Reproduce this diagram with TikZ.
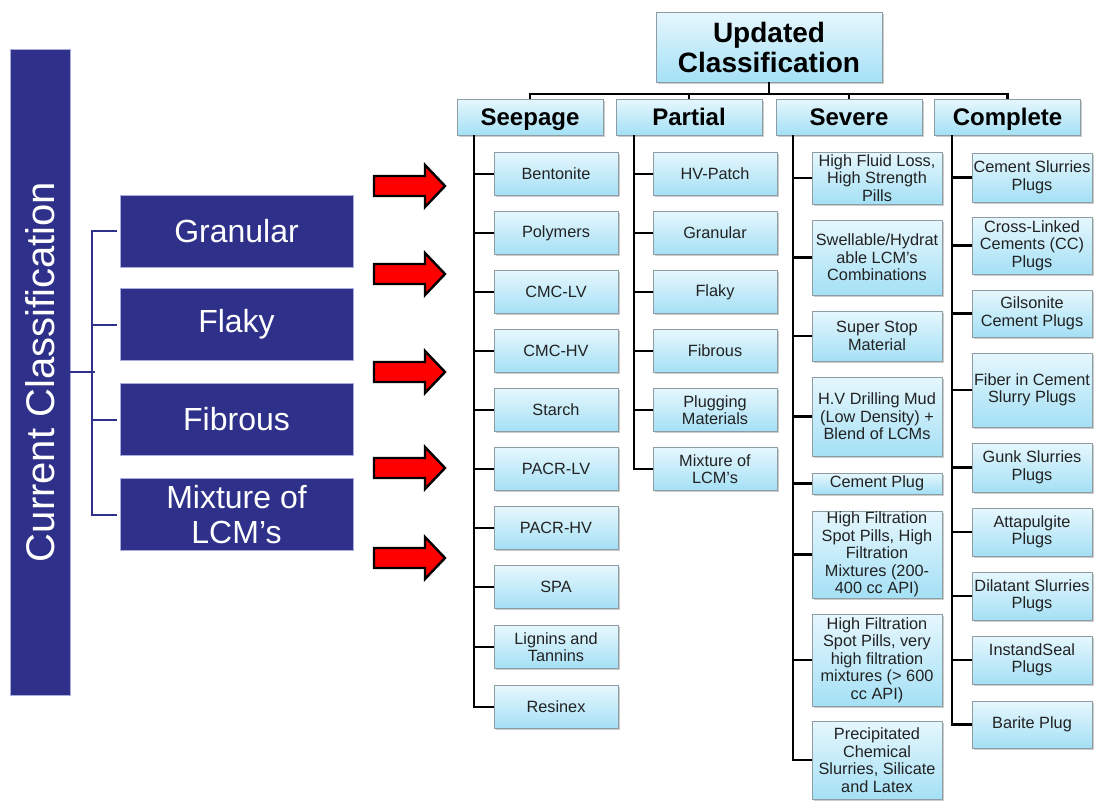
\documentclass[tikz,border=0pt]{standalone}
\usepackage{fontspec}
\setmainfont{Liberation Sans}
\usetikzlibrary{shadows}
\definecolor{navy}{HTML}{2E3089}
\definecolor{navyedge}{HTML}{A9ACDC}
\definecolor{ltop}{HTML}{E6F7FD}
\definecolor{lbot}{HTML}{A4E0F5}
\definecolor{lborder}{HTML}{8E9CA3}
\definecolor{itext}{HTML}{222222}
\begin{document}
\begin{tikzpicture}[x=1pt,y=-1pt,
  lb/.style={draw=lborder, line width=0.9pt, top color=ltop, bottom color=lbot,
    drop shadow={shadow xshift=1.6pt, shadow yshift=-1.6pt, fill=black!40},
    align=center, inner sep=0pt},
  item/.style={lb, text=itext, font=\fontsize{16.3}{17.5}\selectfont},
  sitem/.style={item, minimum width=124},
  vitem/.style={item, minimum width=130},
  citem/.style={item, minimum width=120},
  cat/.style={lb, minimum width=146, minimum height=36, text height=19, text depth=2,
    font=\fontsize{24}{26}\selectfont\bfseries},
  navybox/.style={fill=navy, draw=navyedge, line width=0.6pt, text=white, align=center, inner sep=0pt},
  conn/.style={draw=black, line width=2.6pt},
  bl/.style={draw=navy, line width=2pt},
  redarrow/.pic={\draw[fill=red, draw=black, line width=2.4pt, line join=miter]
     (-35,-10) -- (16,-10) -- (16,-21) -- (36,0) -- (16,21) -- (16,10) -- (-35,10) -- cycle;}
]
\useasboundingbox (0,0) rectangle (1094,801);

% ---------- left side ----------
\node[navybox, rotate=90, minimum width=646, minimum height=60,
  font=\fontsize{40}{42}\selectfont] (cur) at (40,372) {Current Classification};
\node[navybox, minimum width=233, minimum height=72, font=\fontsize{32}{35}\selectfont] (g1) at (236.5,231) {Granular};
\node[navybox, minimum width=233, minimum height=72, font=\fontsize{32}{35}\selectfont] (g2) at (236.5,324.5) {Flaky};
\node[navybox, minimum width=233, minimum height=72, font=\fontsize{32}{35}\selectfont] (g3) at (236.5,419.5) {Fibrous};
\node[navybox, minimum width=233, minimum height=72, font=\fontsize{32}{35}\selectfont] (g4) at (236.5,514.5) {Mixture of\\LCM’s};
\coordinate (bx) at (95,372);
\draw[bl] (cur.south) -- (cur.south -| bx);
\draw[bl] ([xshift=-3pt]g1.west) -- ([xshift=-3pt]g1.west -| bx) -- ([xshift=-3pt]g4.west -| bx) -- ([xshift=-3pt]g4.west);
\draw[bl] ([xshift=-3pt]g2.west) -- ([xshift=-3pt]g2.west -| bx);
\draw[bl] ([xshift=-3pt]g3.west) -- ([xshift=-3pt]g3.west -| bx);

% ---------- red arrows ----------
\pic at (409,186) {redarrow};
\pic at (409,274) {redarrow};
\pic at (409,372) {redarrow};
\pic at (409,468) {redarrow};
\pic at (409,558) {redarrow};

% ---------- top ----------
\node[lb, minimum width=226, minimum height=70, font=\fontsize{28}{30}\selectfont\bfseries] (upd) at (769,47) {Updated\\Classification};
\node[cat] (seep) at (530,117) {Seepage};
\node[cat] (part) at (689,117) {Partial};
\node[cat] (sev)  at (849,117) {Severe};
\node[cat] (comp) at (1007.5,117) {Complete};
\coordinate (hb) at (769,94);
\draw[conn] (upd) -- (hb);
\draw[conn] (seep.north) -- (seep.north |- hb) -- (comp.north |- hb) -- (comp.north);
\draw[conn] (part.north) -- (part.north |- hb);
\draw[conn] (sev.north) -- (sev.north |- hb);

% ---------- seepage ----------
\node[sitem, minimum height=43] (s1) at (556,174) {Bentonite};
\node[sitem, minimum height=43] (s2) at (556,233) {Polymers};
\node[sitem, minimum height=43] (s3) at (556,292) {CMC-LV};
\node[sitem, minimum height=43] (s4) at (556,351) {CMC-HV};
\node[sitem, minimum height=43] (s5) at (556,410) {Starch};
\node[sitem, minimum height=43] (s6) at (556,469) {PACR-LV};
\node[sitem, minimum height=43] (s7) at (556,528) {PACR-HV};
\node[sitem, minimum height=43] (s8) at (556,587) {SPA};
\node[sitem, minimum height=43] (s9) at (556,647) {Lignins and\\Tannins};
\node[sitem, minimum height=43] (s10) at (556,707) {Resinex};
\coordinate (sx) at (474,135);
\draw[conn] (sx) |- (s10);
\foreach \i in {1,...,9} \draw[conn] (s\i.west) -- (s\i.west -| sx);

% ---------- partial ----------
\node[sitem, minimum height=43] (p1) at (715,174) {HV-Patch};
\node[sitem, minimum height=43] (p2) at (715,233) {Granular};
\node[sitem, minimum height=43] (p3) at (715,292) {Flaky};
\node[sitem, minimum height=43] (p4) at (715,351) {Fibrous};
\node[sitem, minimum height=43] (p5) at (715,410) {Plugging\\Materials};
\node[sitem, minimum height=43] (p6) at (715,469) {Mixture of\\LCM’s};
\coordinate (px) at (634,135);
\draw[conn] (px) |- (p6);
\foreach \i in {1,...,5} \draw[conn] (p\i.west) -- (p\i.west -| px);

% ---------- severe ----------
\node[vitem, minimum height=52] (v1) at (877,178) {High Fluid Loss,\\High Strength\\Pills};
\node[vitem, minimum height=75] (v2) at (877,257.5) {Swellable/Hydrat\\able LCM’s\\Combinations};
\node[vitem, minimum height=50] (v3) at (877,336) {Super Stop\\Material};
\node[vitem, minimum height=79] (v4) at (877,416.5) {H.V Drilling Mud\\(Low Density) +\\Blend of LCMs};
\node[vitem, minimum height=21] (v5) at (877,483.5) {Cement Plug};
\node[vitem, minimum height=87] (v6) at (877,554.5) {High Filtration\\Spot Pills, High\\Filtration\\Mixtures (200-\\400 cc API)};
\node[vitem, minimum height=92] (v7) at (877,660) {High Filtration\\Spot Pills, very\\high filtration\\mixtures (> 600\\cc API)};
\node[vitem, minimum height=78] (v8) at (877,760) {Precipitated\\Chemical\\Slurries, Silicate\\and Latex};
\coordinate (vx) at (793,135);
\draw[conn] (vx) |- (v8);
\foreach \i in {1,...,7} \draw[conn] (v\i.west) -- (v\i.west -| vx);

% ---------- complete ----------
\node[citem, minimum height=49] (c1) at (1032,177.5) {Cement Slurries\\Plugs};
\node[citem, minimum height=57] (c2) at (1032,245.5) {Cross-Linked\\Cements (CC)\\Plugs};
\node[citem, minimum height=47] (c3) at (1032,313.5) {Gilsonite\\Cement Plugs};
\node[citem, minimum height=74] (c4) at (1032,390) {Fiber in Cement\\Slurry Plugs};
\node[citem, minimum height=49] (c5) at (1032,467.5) {Gunk Slurries\\Plugs};
\node[citem, minimum height=48] (c6) at (1032,532) {Attapulgite\\Plugs};
\node[citem, minimum height=48] (c7) at (1032,596) {Dilatant Slurries\\Plugs};
\node[citem, minimum height=48] (c8) at (1032,660) {InstandSeal\\Plugs};
\node[citem, minimum height=47] (c9) at (1032,724.5) {Barite Plug};
\coordinate (cx) at (952,135);
\draw[conn] (cx) |- (c9);
\foreach \i in {1,...,8} \draw[conn] (c\i.west) -- (c\i.west -| cx);
\end{tikzpicture}
\end{document}
